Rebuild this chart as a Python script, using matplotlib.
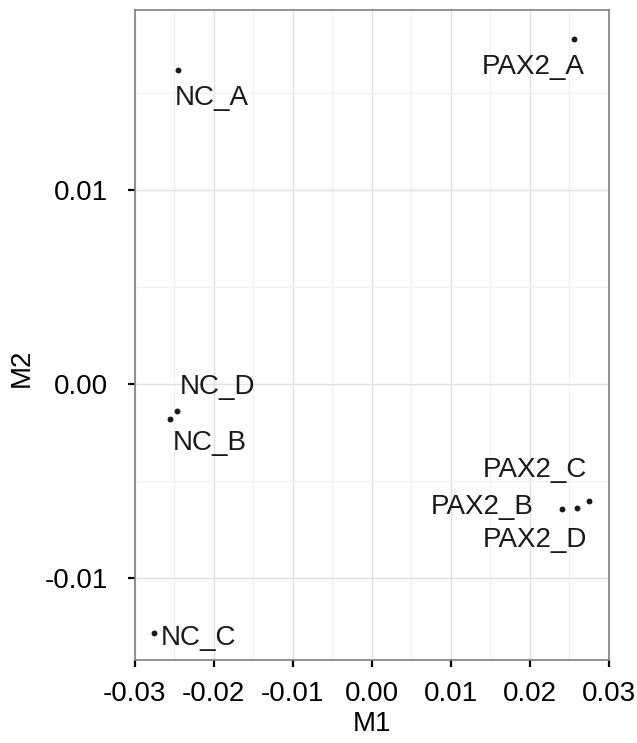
import numpy as np
import matplotlib.pyplot as plt
from matplotlib.ticker import MultipleLocator

plt.rcParams['font.family'] = ['Liberation Sans', 'DejaVu Sans']

# sample coordinates on the two MDS dimensions
samples = ["NC_A", "PAX2_A", "NC_D", "NC_B", "PAX2_B", "PAX2_D", "PAX2_C", "NC_C"]
m1 = [-0.0245, 0.02556, -0.02459, -0.02551, 0.02408, 0.02598, 0.02742, -0.02753]
m2 = [0.01619, 0.01778, -0.00139, -0.00179, -0.00646, -0.00641, -0.00605, -0.01282]

# label placement (pixels from the point, like the repelled labels)
label_offsets = {
    "NC_A": (34, -28), "PAX2_A": (-41, -28), "NC_D": (40, 24), "NC_B": (40, -24),
    "PAX2_B": (-80, 2), "PAX2_D": (-42, -32), "PAX2_C": (-54, 31), "NC_C": (44, -5),
}

fig = plt.figure(figsize=(6.37, 7.43), dpi=100)
ax = fig.add_axes([134.5 / 637, 1 - 660 / 743, (609 - 134.5) / 637, 650 / 743])

ax.scatter(m1, m2, s=18, color="#1a1a1a", zorder=3, linewidths=0)
for name, x, y in zip(samples, m1, m2):
    dx, dy = label_offsets[name]
    ax.annotate(name, (x, y), xytext=(dx, dy), textcoords="offset pixels",
                ha="center", va="center", fontsize=20, color="#1a1a1a")

ax.set_xlim(-0.03, 0.03)
ax.set_ylim(-0.01423, 0.01928)
ax.xaxis.set_minor_locator(MultipleLocator(0.005))
ax.yaxis.set_minor_locator(MultipleLocator(0.005))
ax.set_xticks([-0.03, -0.02, -0.01, 0.0, 0.01, 0.02, 0.03])
ax.set_xticklabels(["-0.03", "-0.02", "-0.01", "0.00", "0.01", "0.02", "0.03"])
ax.set_yticks([-0.01, 0.0, 0.01])
ax.set_yticklabels(["-0.01", "0.00", "0.01"])

ax.grid(True, which="major", color="#e0e0e0", linewidth=1.0)
ax.grid(True, which="minor", color="#f1f1f1", linewidth=1.0)
ax.set_axisbelow(True)
for sp in ax.spines.values():
    sp.set_color("#7f7f7f")
    sp.set_linewidth(1.2)

ax.tick_params(which="major", length=5, width=1.6, color="black", labelsize=20,
               labelcolor="black")
ax.tick_params(axis="y", pad=14)
ax.tick_params(axis="x", pad=10)
ax.tick_params(which="minor", length=0)

ax.set_xlabel("M1", fontsize=20)
ax.set_ylabel("M2", fontsize=20)
ax.xaxis.set_label_coords(0.5, -0.078)
ax.yaxis.set_label_coords(-0.21, 0.449)

fig.savefig("out.png", dpi=100)
